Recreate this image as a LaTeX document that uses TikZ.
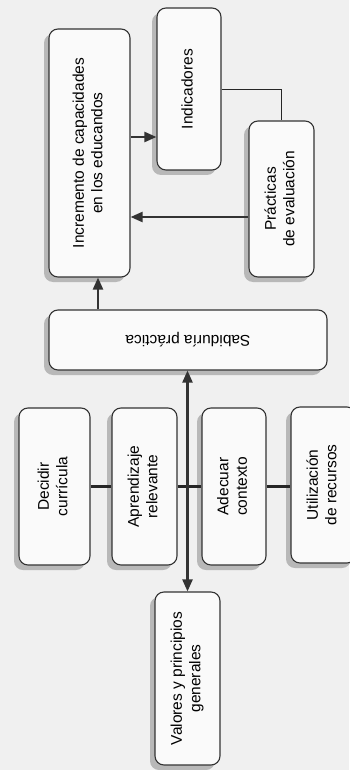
\documentclass[tikz,border=0pt]{standalone}
\usepackage{fontspec}
\setmainfont{Liberation Sans}
\usetikzlibrary{arrows.meta,shadows}

\tikzset{
  box/.style={draw=black!80, line width=1.1pt, rounded corners=9pt,
    fill=black!2, inner sep=0pt,
    drop shadow={shadow xshift=-5pt, shadow yshift=-5pt, fill=black!28, opacity=1},
    font=\fontsize{15.5}{18.5}\selectfont},
  arr/.style={->, line width=2.2pt, draw=black!80},
  link/.style={line width=2.2pt, draw=black!85},
  thinlink/.style={line width=0.9pt, draw=black!85}
}
\newcommand{\vtext}[1]{\rotatebox{90}{\begin{tabular}{@{}c@{}}#1\end{tabular}}}

\begin{document}
\begin{tikzpicture}[x=1pt,y=-1pt,>={Triangle[length=12pt,width=10pt]}]
  \useasboundingbox (0,0) rectangle (349,770);
  \fill[black!6] (0,0) rectangle (349,770);

  % results
  \node[box, minimum width=81pt, minimum height=248pt] (incr) at (89.5,153)
    {\vtext{Incremento de capacidades\\en los educandos}};
  \node[box, minimum width=64pt, minimum height=162pt] (ind) at (189,89)
    {\vtext{Indicadores}};
  \node[box, minimum width=65pt, minimum height=156pt] (prac) at (281.5,199)
    {\vtext{Prácticas\\de evaluación}};

  % middle
  \node[box, minimum width=278pt, minimum height=60pt] (sab) at (188,340)
    {\rotatebox{180}{Sabiduría práctica}};

  % row of decisions
  \node[box, minimum width=71pt, minimum height=157pt] (dec) at (54.5,486.5)
    {\vtext{Decidir\\currícula}};
  \node[box, minimum width=65pt, minimum height=157pt] (apr) at (144.5,486.5)
    {\vtext{Aprendizaje\\relevante}};
  \node[box, minimum width=64pt, minimum height=157pt] (ade) at (234,486.5)
    {\vtext{Adecuar\\contexto}};
  \node[box, minimum width=65pt, minimum height=156pt] (uti) at (323.5,485)
    {\vtext{Utilización\\de recursos}};

  % base
  \node[box, minimum width=65pt, minimum height=173pt] (val) at (187.5,678.5)
    {\vtext{Valores y principios\\generales}};

  %links
  \draw[link] (dec) -- (apr);
  \draw[link] (apr) -- (ade);
  \draw[link] (ade.east) -- (ade.east -| uti.west);
  \draw[arr, <->] (val.north) -- (val.north |- sab.south);
  \draw[arr] ([xshift=8.5pt]incr.south |- sab.north) -- ([xshift=8.5pt]incr.south);
  \draw[arr] ([yshift=-48pt]ind.west -| incr.east) -- ([yshift=-48pt]ind.west);
  \draw[arr] ([yshift=-18pt]prac.west) -- ([yshift=-18pt]prac.west -| incr.east);
  \draw[thinlink] (ind.east) -| (prac.north);
\end{tikzpicture}
\end{document}
